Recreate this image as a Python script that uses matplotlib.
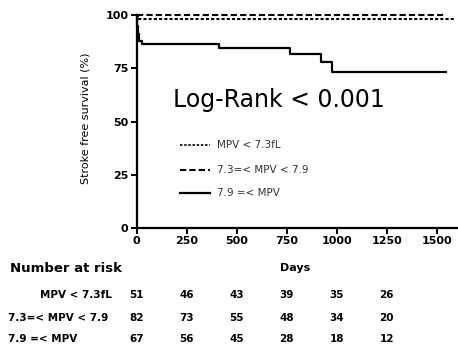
import matplotlib.pyplot as plt
import matplotlib.transforms as mtransforms

# survival curves (days, % stroke free)
days_low = [0, 5, 1590]
surv_low = [100, 98, 98]
days_mid = [0, 1530]
surv_mid = [100, 100]
days_high = [0, 3, 6, 10, 25, 413, 767, 920, 975, 1547]
surv_high = [100, 95, 91, 88, 86.5, 84.7, 81.8, 78.1, 73.4, 73.4]

group_labels = ["MPV < 7.3fL", "7.3=< MPV < 7.9", "7.9 =< MPV"]
legend_labels = ["MPV < 7.3fL", "7.3=< MPV < 7.9", "7.9 =< MPV"]

risk_days = [0, 250, 500, 750, 1000, 1250]
risk_low = [51, 46, 43, 39, 35, 26]
risk_mid = [82, 73, 55, 48, 34, 20]
risk_high = [67, 56, 45, 28, 18, 12]

x_ticks = [0, 250, 500, 750, 1000, 1250, 1500]
y_ticks = [0, 25, 50, 75, 100]

W, H = 458, 354
fig = plt.figure(figsize=(W / 100, H / 100), dpi=100)
ax = fig.add_axes([136.7 / W, 1 - 228 / H, 320 / W, 213 / H])

ax.step(days_low, surv_low, where='post', color='black', lw=1.5,
        ls=(0, (1.5, 1.0)), clip_on=False)
ax.step(days_mid, surv_mid, where='post', color='black', lw=1.5,
        ls=(0, (3, 1.5)), clip_on=False)
ax.step(days_high, surv_high, where='post', color='black', lw=1.6, clip_on=False)

ax.set_xlim(0, 1600)
ax.set_ylim(0, 100)
ax.set_xticks(x_ticks)
ax.set_yticks(y_ticks)
for s in ['top', 'right']:
    ax.spines[s].set_visible(False)
for s in ['left', 'bottom']:
    ax.spines[s].set_linewidth(1.6)
ax.tick_params(direction='out', length=4, width=1.4, pad=2)
for lab in ax.get_xticklabels() + ax.get_yticklabels():
    lab.set_fontweight('bold')
    lab.set_fontsize(8)

fig.text(85 / W, 1 - 118 / H, "Stroke free survival (%)", rotation=90,
         ha='center', va='center', fontsize=8)

fig.text(279 / W, 1 - 100 / H, "Log-Rank < 0.001",
         ha='center', va='center', fontsize=17)

# legend drawn by hand
styles = [(0, (1.5, 1.0)), (0, (3, 1.5)), '-']
widths = [1.2, 1.5, 1.6]
leg_y = [145, 170, 193]
for lab, st, lw, yy in zip(legend_labels, styles, widths, leg_y):
    yf = 1 - yy / H
    fig.add_artist(plt.Line2D([180 / W, 210 / W], [yf, yf], color='black',
                              lw=lw, ls=st, transform=fig.transFigure))
    fig.text(217 / W, yf, lab, ha='left', va='center', fontsize=7.5, color='#333333')

fig.text(295 / W, 1 - 268 / H, "Days", ha='center', va='center',
         fontsize=8, fontweight='bold')
fig.text(10 / W, 1 - 269 / H, "Number at risk", ha='left', va='center',
         fontsize=9.5, fontweight='bold')

trans = mtransforms.blended_transform_factory(ax.transData, fig.transFigure)
row_y = [295, 318, 339]
fig.text(112 / W, 1 - row_y[0] / H, group_labels[0], ha='right', va='center',
         fontsize=7.5, fontweight='bold')
fig.text(8 / W, 1 - row_y[1] / H, group_labels[1], ha='left', va='center',
         fontsize=7.5, fontweight='bold')
fig.text(8 / W, 1 - row_y[2] / H, group_labels[2], ha='left', va='center',
         fontsize=7.5, fontweight='bold')
for vals, yy in zip([risk_low, risk_mid, risk_high], row_y):
    for d, v in zip(risk_days, vals):
        ax.text(d, 1 - yy / H, str(v), transform=trans, ha='center', va='center',
                fontsize=7.5, fontweight='bold', clip_on=False)

fig.savefig('out.png', dpi=100)
